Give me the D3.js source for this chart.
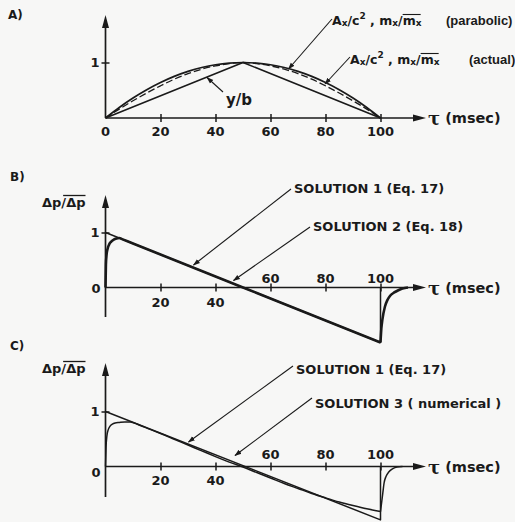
<!DOCTYPE html>
<html>
<head>
<meta charset="utf-8">
<script src="https://cdn.jsdelivr.net/npm/d3@7/dist/d3.min.js"></script>
<style>
  html, body { margin: 0; padding: 0; background: #f7f7f6; }
  svg { display: block; }
  text { font-family: "DejaVu Sans", "Liberation Sans", sans-serif; font-weight: bold; fill: #1a1a1a; }
</style>
</head>
<body>
<svg id="fig" width="515" height="522"></svg>
<script>
// ---- data ----
const tauTickValues = [20, 40, 60, 80, 100];

// Panel A: cross-section area / mass ratio and y/b over the pulse
const tauA = [0, 5, 10, 15, 20, 25, 30, 35, 40, 45, 50, 55, 60, 65, 70, 75, 80, 85, 90, 95, 100];
const parabolicA = [0, 0.19, 0.36, 0.51, 0.64, 0.75, 0.84, 0.91, 0.96, 0.99, 1, 0.99, 0.96, 0.91, 0.84, 0.75, 0.64, 0.51, 0.36, 0.19, 0];
const actualA = [0, 0.16, 0.31, 0.45, 0.58, 0.70, 0.80, 0.88, 0.94, 0.98, 1, 0.98, 0.94, 0.88, 0.80, 0.70, 0.58, 0.45, 0.31, 0.16, 0];
const tauYB = [0, 50, 100];
const yOverB = [0, 1, 0];

// Panel B: pressure ratio, solutions 1 and 2
const tauSol1B = [0, 100, 100];
const sol1B = [1, -1, 0];
const tauSol2B = [0, 0.15, 0.4, 0.8, 1.3, 2, 3, 4, 5, 6, 10, 20, 30, 40, 50, 60, 70, 80, 90, 100,
                  100, 100.3, 100.7, 101.6, 102.5, 103.5, 105, 106.5, 108, 110];
const sol2B = [0, 0.42, 0.6, 0.71, 0.78, 0.83, 0.87, 0.89, 0.9, 0.88, 0.8, 0.6, 0.4, 0.2, 0, -0.2, -0.4, -0.6, -0.8, -1,
               -1, -0.75, -0.58, -0.35, -0.23, -0.15, -0.09, -0.05, -0.02, 0];

// Panel C: pressure ratio, solutions 1 and 3
const tauSol1C = [0, 100, 100];
const sol1C = [1, -0.97, 0];
const tauSol3C = [0, 0.2, 0.5, 1, 1.6, 2.5, 3.5, 5, 7, 9, 12, 16, 20, 25, 30, 35, 40, 45, 50, 55, 60, 65, 70, 75, 80, 85, 90, 95, 100,
                  100, 100.3, 100.8, 101.3, 102, 103, 104.5, 106, 108];
const sol3C = [0, 0.35, 0.55, 0.67, 0.73, 0.77, 0.79, 0.8, 0.81, 0.81, 0.76, 0.68, 0.6, 0.495, 0.39, 0.285, 0.18, 0.08, -0.01, -0.11, -0.21, -0.31, -0.40, -0.49, -0.57, -0.645, -0.71, -0.77, -0.82,
               -0.82, -0.7, -0.5, -0.3, -0.18, -0.1, -0.04, -0.01, 0];

// ---- drawing ----
const svg = d3.select("#fig");
const ink = "#1a1a1a";

const x = d3.scaleLinear().domain([0, 100]).range([105.5, 380.5]);
const yA = d3.scaleLinear().domain([0, 1]).range([118, 62.5]);
const yB = d3.scaleLinear().domain([0, 1]).range([287.5, 232.5]);
const yC = d3.scaleLinear().domain([0, 1]).range([466.5, 411.5]);

const defs = svg.append("defs");
defs.append("marker").attr("id", "tip").attr("viewBox", "0 0 10 10")
  .attr("refX", 9).attr("refY", 5).attr("markerWidth", 7).attr("markerHeight", 7)
  .attr("markerUnits", "userSpaceOnUse").attr("orient", "auto")
  .append("path").attr("d", "M0,1.5 L10,5 L0,8.5 Z").attr("fill", ink);

// split a series wherever time repeats, so each piece can be smoothed on its own
function pieces(t, v) {
  const out = [[]];
  t.forEach((d, i) => {
    if (i > 0 && d <= t[i - 1]) out.push([]);
    out[out.length - 1].push([d, v[i]]);
  });
  return out;
}

function curve(y, t, v, opts = {}) {
  const line = d3.line().x(d => x(d[0])).y(d => y(d[1]))
    .curve(opts.smooth ? d3.curveMonotoneX : d3.curveLinear);
  const segs = opts.smooth ? pieces(t, v) : [t.map((d, i) => [d, v[i]])];
  svg.append("path")
    .attr("d", segs.map(s => line(s)).join(""))
    .attr("fill", "none").attr("stroke", ink)
    .attr("stroke-width", opts.width || 1.5)
    .attr("stroke-dasharray", opts.dash || null)
    .attr("stroke-linejoin", "round");
}

function arrowHead(px, py, dir) {
  // filled arrow at the end of an axis
  const p = dir === "up"
    ? [[px, py], [px - 3.5, py + 13], [px + 3.5, py + 13]]
    : [[px, py], [px - 13, py - 3.5], [px - 13, py + 3.5]];
  svg.append("path").attr("d", "M" + p.join("L") + "Z").attr("fill", ink);
}

function axes(y, yTop, yBottom) {
  const y0 = y(0);
  svg.append("line").attr("x1", x(0)).attr("x2", 420).attr("y1", y0).attr("y2", y0)
    .attr("stroke", ink).attr("stroke-width", 1.7);
  arrowHead(426, y0, "right");
  svg.append("line").attr("x1", x(0)).attr("x2", x(0)).attr("y1", yBottom).attr("y2", yTop + 8)
    .attr("stroke", ink).attr("stroke-width", 1.7);
  arrowHead(x(0), yTop, "up");
  const gx = svg.append("g").attr("transform", `translate(0,${y0})`)
    .call(d3.axisBottom(x).tickValues(tauTickValues).tickSize(4).tickFormat(""));
  gx.select(".domain").remove();
  gx.selectAll(".tick line").attr("y1", -4).attr("stroke", ink).attr("stroke-width", 1.5);
  const gy = svg.append("g").attr("transform", `translate(${x(0)},0)`)
    .call(d3.axisLeft(y).tickValues([1]).tickSize(4).tickFormat(""));
  gy.select(".domain").remove();
  gy.selectAll(".tick line").attr("x1", 4).attr("stroke", ink).attr("stroke-width", 1.5);
}

function label(txt, px, py, size, anchor) {
  return svg.append("text").attr("x", px).attr("y", py)
    .attr("font-size", size).attr("text-anchor", anchor || "start")
    .attr("dominant-baseline", "central").text(txt);
}

function leader(x1, y1, x2, y2) {
  svg.append("line").attr("x1", x1).attr("y1", y1).attr("x2", x2).attr("y2", y2)
    .attr("stroke", ink).attr("stroke-width", 1.1).attr("marker-end", "url(#tip)");
}

function tauLabel(y) {
  const t = svg.append("text").attr("x", 428).attr("y", y(0))
    .attr("dominant-baseline", "central").attr("font-size", 14.5);
  t.append("tspan").style("font-family", "'DejaVu Serif', serif").attr("font-size", 18).text("τ");
  t.append("tspan").text(" (msec)");
}

function pressureLabel(px, py) {
  const t = svg.append("text").attr("x", px).attr("y", py)
    .attr("dominant-baseline", "central").attr("font-size", 13);
  t.append("tspan").text("Δp/");
  const d = t.append("tspan").text("Δp");
  const bb = d.node().getBBox();
  svg.append("line").attr("x1", bb.x - 3).attr("x2", bb.x + bb.width)
    .attr("y1", bb.y + 1).attr("y2", bb.y + 1).attr("stroke", ink).attr("stroke-width", 1.3);
}

function areaLabel(px, py, tail, tailX) {
  const t = svg.append("text").attr("x", px).attr("y", py)
    .attr("dominant-baseline", "central").attr("font-size", 12.5);
  t.append("tspan").text("A");
  t.append("tspan").attr("font-size", 9).attr("dy", 3).text("x");
  t.append("tspan").attr("dy", -3).text("/c");
  t.append("tspan").attr("font-size", 9).attr("dy", -4).text("2");
  t.append("tspan").attr("dy", 4).text(" , m");
  t.append("tspan").attr("font-size", 9).attr("dy", 3).text("x");
  t.append("tspan").attr("dy", -3).text("/");
  const m = t.append("tspan").text("m");
  t.append("tspan").attr("font-size", 9).attr("dy", 3).text("x");
  const bb = m.node().getBBox();
  svg.append("line").attr("x1", bb.x).attr("x2", bb.x + bb.width + 5)
    .attr("y1", bb.y + 2).attr("y2", bb.y + 2).attr("stroke", ink).attr("stroke-width", 1.1);
  svg.append("text").attr("x", tailX).attr("y", py)
    .attr("dominant-baseline", "central").attr("font-size", 13)
    .style("font-family", "'Liberation Sans', Arial, sans-serif").text(tail);
}

// ---- Panel A ----
label("A)", 8, 15, 12);
axes(yA, 15, yA(0));
curve(yA, tauA, parabolicA, { smooth: true, width: 1.7 });
curve(yA, tauA, actualA, { smooth: true, width: 1.3, dash: "7,3" });
curve(yA, tauYB, yOverB, { width: 1.6 });
label("1", 95, yA(1), 13, "middle");
[0, 20, 40, 60, 80, 100].forEach(v => label(String(v), x(v), 131, 13, "middle"));
tauLabel(yA);
label("y/b", 226, 100, 15);
leader(223, 92, 207, 77.5);
areaLabel(332, 20, "(parabolic)", 446);
leader(332, 19, 288.5, 69);
areaLabel(350, 59, "(actual)", 469);
leader(350, 57, 325, 84);

// ---- Panel B ----
label("B)", 10, 177, 12);
axes(yB, 195, 317);
curve(yB, tauSol1B, sol1B, { width: 1.5 });
curve(yB, tauSol2B, sol2B, { smooth: true, width: 2.6 });
label("1", 95, yB(1), 13, "middle");
label("0", 96, yB(0) + 1, 13, "middle");
[20, 40].forEach(v => label(String(v), x(v), 302, 13, "middle"));
[60, 80, 100].forEach(v => label(String(v), x(v), 278, 13, "middle"));
tauLabel(yB);
pressureLabel(42, 202);
label("SOLUTION 1 (Eq. 17)", 294, 188, 13);
leader(291, 189, 193.5, 265);
label("SOLUTION 2 (Eq. 18)", 313, 226, 13);
leader(310, 227, 233.5, 280.5);

// ---- Panel C ----
label("C)", 10, 346, 12);
axes(yC, 363, 497);
curve(yC, tauSol1C, sol1C, { width: 1.5 });
curve(yC, tauSol3C, sol3C, { smooth: true, width: 1.5 });
label("1", 95, yC(1), 13, "middle");
label("0", 96, yC(0) + 6, 13, "middle");
[20, 40].forEach(v => label(String(v), x(v), 480, 13, "middle"));
[60, 80, 100].forEach(v => label(String(v), x(v), 454, 13, "middle"));
tauLabel(yC);
pressureLabel(42, 368);
label("SOLUTION 1 (Eq. 17)", 296, 369, 13);
leader(293, 366, 188.5, 442);
label("SOLUTION 3 ( numerical )", 315, 403, 13);
leader(312, 398, 235, 455.5);
</script>
</body>
</html>
